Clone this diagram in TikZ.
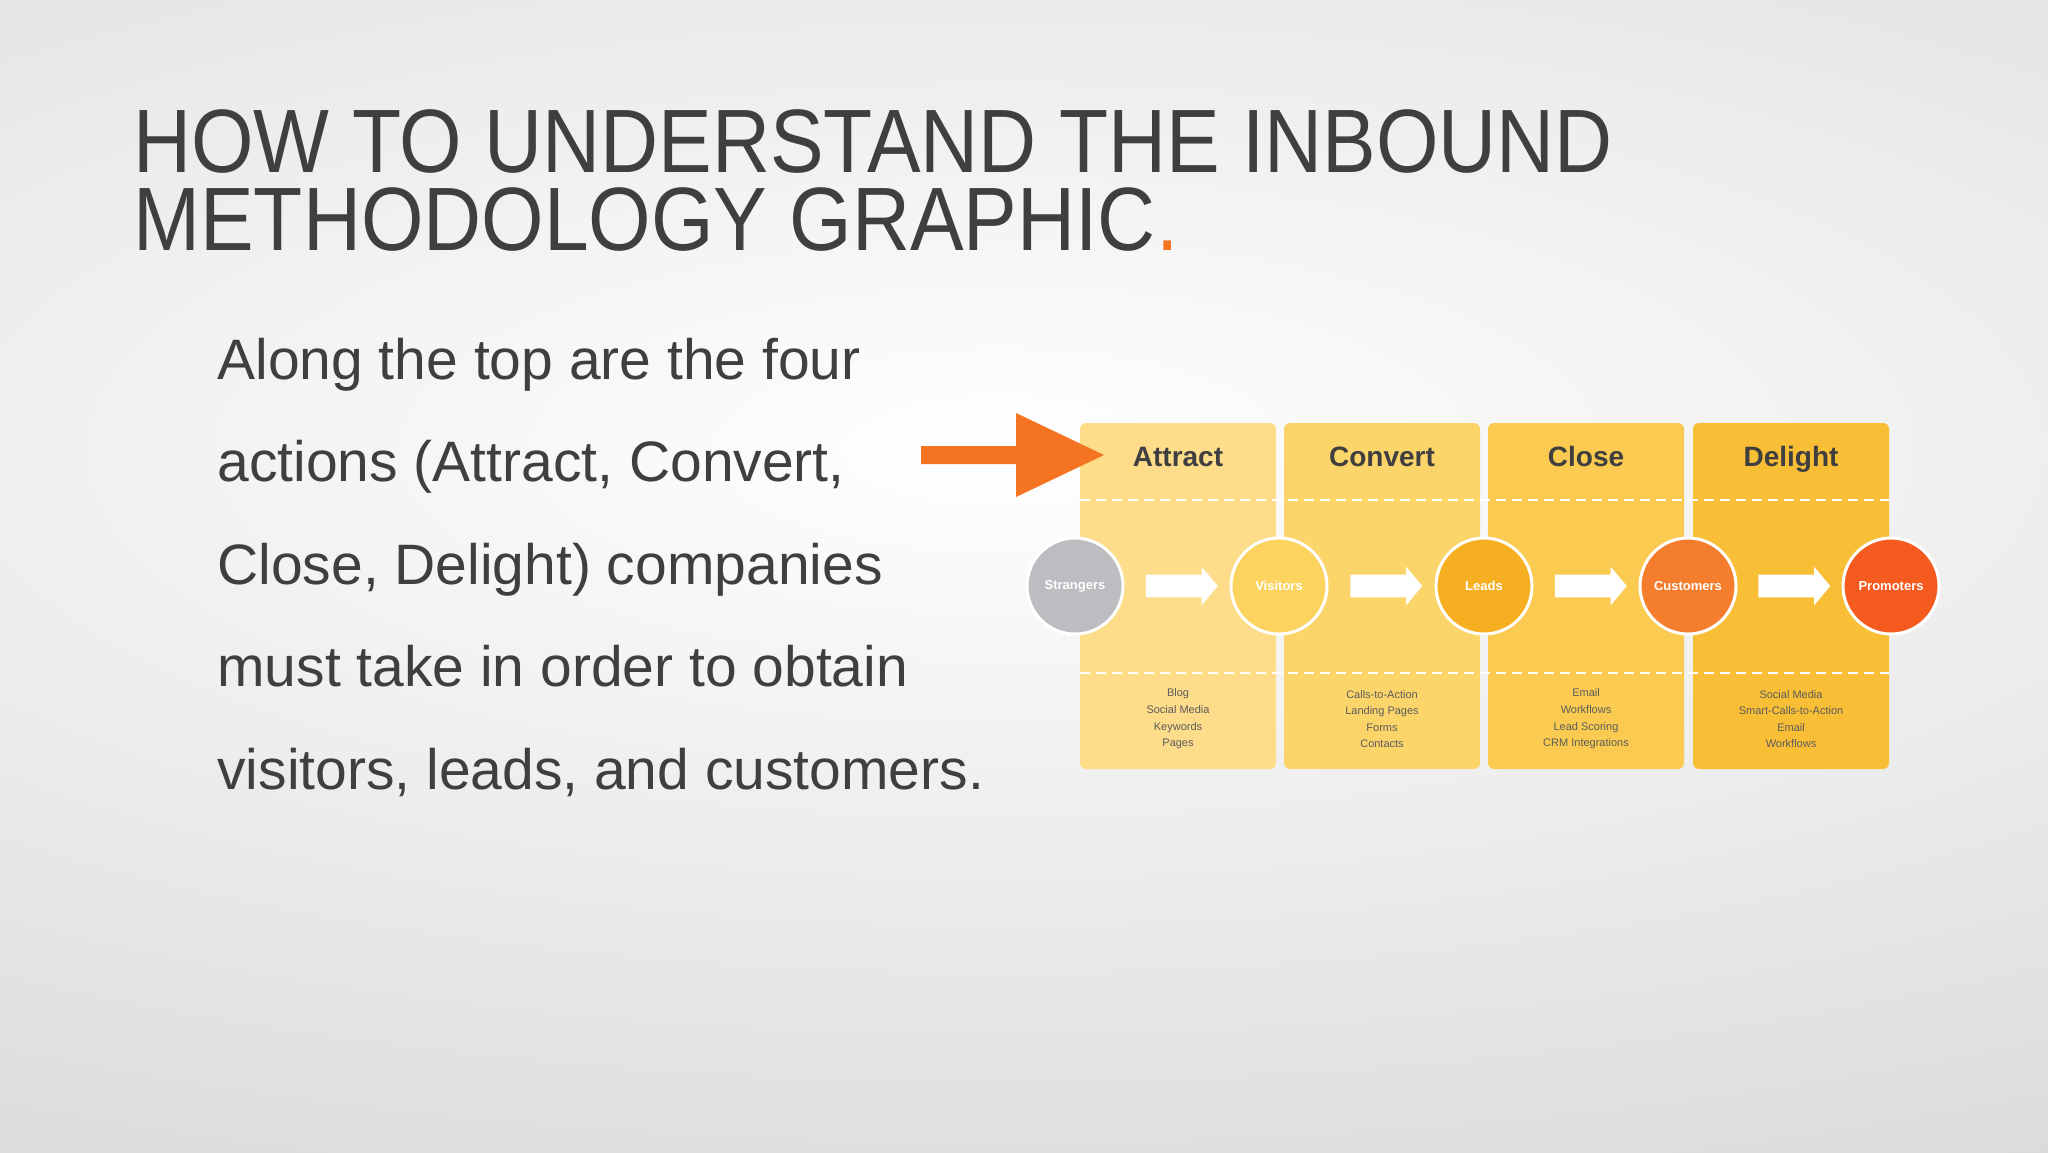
\documentclass[tikz,border=0pt]{standalone}
\usepackage{fontspec}
\setmainfont{Liberation Sans}
\usetikzlibrary{shapes.arrows,calc}
\definecolor{txt}{HTML}{3F3F3F}
\definecolor{orng}{HTML}{F47421}
\definecolor{cA}{HTML}{FDDC8A}
\definecolor{cB}{HTML}{FBD46A}
\definecolor{cC}{HTML}{FACB50}
\definecolor{cD}{HTML}{F8BF36}
\definecolor{kS}{HTML}{BDBCC0}
\definecolor{kV}{HTML}{FBD35E}
\definecolor{kL}{HTML}{F7AF22}
\definecolor{kC}{HTML}{F47D2E}
\definecolor{kP}{HTML}{F55A1E}
\definecolor{bg}{HTML}{D9D9D9}
\tikzset{
 col/.style={rounded corners=3pt, minimum width=98pt, minimum height=173pt, inner sep=0pt},
 head/.style={anchor=base, font=\fontsize{14}{16}\selectfont\bfseries, text=txt},
 stage/.style={circle, draw=white, line width=1.5pt, minimum size=48pt, inner sep=0pt, text=white, font=\fontsize{6.5}{8}\selectfont\bfseries},
 blk/.style={single arrow, fill=white, minimum width=19pt, single arrow head extend=4pt, single arrow tip angle=100, minimum height=36pt, inner xsep=0pt, inner ysep=5.5pt},
 tools/.style={align=center, text=txt!85, font=\fontsize{5.5}{8.3}\selectfont},
 dashline/.style={white, line width=0.8pt, dash pattern=on 5pt off 3pt},
 ttl/.style={anchor=base west, inner sep=0pt, text=txt, font=\fontsize{45}{45}\selectfont}
}
\begin{document}
\begin{tikzpicture}[x=0.5pt,y=-0.5pt]
\useasboundingbox (0,0) rectangle (2048,1152);
\fill[bg] (0,0) rectangle (2048,1152);
\shade[inner color=white, outer color=bg] (1000,450) ellipse (1200pt and 420pt);
% title
\node[ttl] (t1) at (133,172) {\scalebox{0.893}[1]{HOW TO UNDERSTAND THE INBOUND}};
\node[ttl] (t2) at (133,250) {\scalebox{0.893}[1]{METHODOLOGY GRAPHIC\textcolor{orng}{.}}};
% body
\foreach \t [count=\i from 0] in {Along the top are the four, {actions (Attract, Convert,}, {Close, Delight) companies}, must take in order to obtain, {visitors, leads, and customers.}}
 \node[anchor=base west, inner sep=0pt, text=txt, font=\fontsize{28.5}{30}\selectfont] (b\i) at (217,379+102.5*\i) {\t};
% columns
\node[col, fill=cA] (cA) at (1178,596) {};
\node[col, fill=cB] (cB) at (1382,596) {};
\node[col, fill=cC] (cC) at (1586,596) {};
\node[col, fill=cD] (cD) at (1791,596) {};
\draw[dashline] (cA.west |- 0,500) -- (cD.east |- 0,500);
\draw[dashline] (cA.west |- 0,673) -- (cD.east |- 0,673);
\node[head] (hA) at (1178,466) {Attract};
\node[head] (hB) at (1382,466) {Convert};
\node[head] (hC) at (1586,466) {Close};
\node[head] (hD) at (1791,466) {Delight};
\node[stage, fill=kS] (s1) at (1075,586) {Strangers};
\node[stage, fill=kV] (s2) at (1279,586) {Visitors};
\node[stage, fill=kL] (s3) at (1484,586) {Leads};
\node[stage, fill=kC] (s4) at (1688,586) {Customers};
\node[stage, fill=kP] (s5) at (1891,586) {Promoters};
\node[blk] (a1) at ($(s1)!0.5!(s2)$) {};
\node[blk] (a2) at ($(s2)!0.5!(s3)$) {};
\node[blk] (a3) at ($(s3)!0.5!(s4)$) {};
\node[blk] (a4) at ($(s4)!0.5!(s5)$) {};
\node[tools] (lA) at (1178,719) {Blog\\Social Media\\Keywords\\Pages};
\node[tools] (lB) at (1382,719) {Calls-to-Action\\Landing Pages\\Forms\\Contacts};
\node[tools] (lC) at (1586,719) {Email\\Workflows\\Lead Scoring\\CRM Integrations};
\node[tools] (lD) at (1791,719) {Social Media\\Smart-Calls-to-Action\\Email\\Workflows};
% orange pointer
\fill[orng] (921,446) -- (1016,446) -- (1016,413) -- (1104,455) -- (1016,497) -- (1016,464) -- (921,464) -- cycle;
\end{tikzpicture}
\end{document}
